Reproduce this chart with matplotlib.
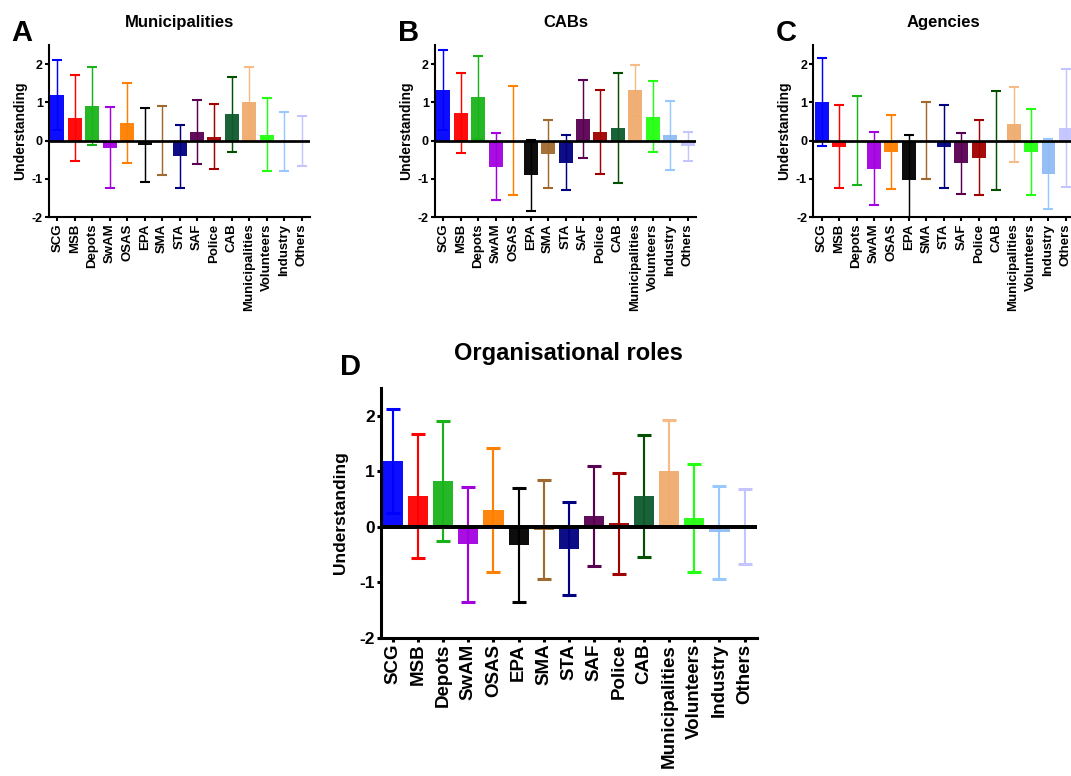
import matplotlib
matplotlib.use("Agg")
import matplotlib.pyplot as plt
import numpy as np

plt.rcParams['font.family'] = ['Liberation Sans', 'DejaVu Sans']
plt.rcParams['font.weight'] = 'bold'
plt.rcParams['axes.unicode_minus'] = False

roles = ['SCG', 'MSB', 'Depots', 'SwAM', 'OSAS', 'EPA', 'SMA', 'STA', 'SAF',
         'Police', 'CAB', 'Municipalities', 'Volunteers', 'Industry', 'Others']

bar_colors = ['#0000FF', '#FF0000', '#19B319', '#A300E0', '#FF7F00', '#000000',
              '#A0692E', '#000080', '#5A0052', '#A00000', '#0D5A2C', '#F0AC6E',
              '#22FF11', '#8FBCF5', '#C4C4FF']
err_colors = ['#0000FF', '#FF0000', '#19B319', '#A300E0', '#FF7F00', '#000000',
              '#A0692E', '#000080', '#5A0052', '#A00000', '#005000', '#F5BC88',
              '#22FF11', '#99C8FF', '#C4C4FF']

# mean understanding and SD per role, for each respondent group
muni_mean = [1.19, 0.60, 0.90, -0.18, 0.46, -0.11, 0.0, -0.41, 0.23, 0.11, 0.69, 1.00, 0.16, -0.03, 0.0]
muni_sd = [0.91, 1.12, 1.02, 1.06, 1.04, 0.96, 0.90, 0.83, 0.84, 0.86, 0.98, 0.93, 0.95, 0.77, 0.65]

cab_mean = [1.32, 0.72, 1.13, -0.68, 0.0, -0.90, -0.35, -0.57, 0.56, 0.23, 0.33, 1.32, 0.63, 0.14, -0.15]
cab_sd = [1.05, 1.05, 1.09, 0.88, 1.43, 0.93, 0.88, 0.73, 1.02, 1.10, 1.43, 0.67, 0.93, 0.90, 0.38]

agency_mean = [1.02, -0.16, 0.0, -0.73, -0.30, -1.03, 0.0, -0.16, -0.59, -0.44, 0.0, 0.43, -0.29, -0.87, 0.33]
agency_sd = [1.15, 1.08, 1.16, 0.96, 0.96, 1.18, 1.00, 1.08, 0.79, 0.99, 1.30, 0.98, 1.13, 0.92, 1.54]

all_mean = [1.19, 0.55, 0.83, -0.32, 0.31, -0.33, -0.05, -0.40, 0.19, 0.06, 0.56, 1.00, 0.16, -0.10, 0.0]
all_sd = [0.94, 1.12, 1.08, 1.04, 1.12, 1.03, 0.90, 0.84, 0.90, 0.91, 1.10, 0.92, 0.98, 0.84, 0.68]


def panel(ax, mean, sd, title, fs_tick, fs_ytick, fs_label, fs_title, lw, cap, title_pad, lpad):
    x = np.arange(len(roles))
    for i in range(len(roles)):
        ax.errorbar(x[i], mean[i], yerr=sd[i], color=err_colors[i], elinewidth=lw * 0.7,
                    capsize=cap, capthick=lw, zorder=1)
    ax.bar(x, mean, width=0.8, color=bar_colors, alpha=0.95, linewidth=0, zorder=2)
    ax.axhline(0, color='black', lw=lw * 1.3, zorder=3)
    ax.set_xlim(-0.48, len(roles) - 0.52)
    ax.set_ylim(-2, 2.5)
    ax.set_yticks([-2, -1, 0, 1, 2])
    ax.set_xticks(x)
    ax.set_xticklabels(roles, rotation=90, fontsize=fs_tick, fontweight='bold')
    for t in ax.get_yticklabels():
        t.set_fontsize(fs_ytick)
        t.set_fontweight('bold')
    ax.set_ylabel('Understanding', fontsize=fs_label, fontweight='bold', labelpad=lpad)
    ax.set_title(title, fontsize=fs_title, fontweight='bold', pad=title_pad)
    ax.spines['top'].set_visible(False)
    ax.spines['right'].set_visible(False)
    ax.spines['left'].set_linewidth(lw)
    ax.spines['bottom'].set_linewidth(lw)
    ax.tick_params(width=lw, length=3, pad=1.5)


fig = plt.figure(figsize=(10.71, 7.76), dpi=100)

axA = fig.add_axes([0.0458, 0.72, 0.2437, 0.222])
axB = fig.add_axes([0.4062, 0.72, 0.2437, 0.222])
axC = fig.add_axes([0.7594, 0.72, 0.2437, 0.222])
axD = fig.add_axes([0.3557, 0.1784, 0.3508, 0.3213])

panel(axA, muni_mean, muni_sd, 'Municipalities', 9.5, 9, 10, 12, 1.5, 3.5, 13, 3.5)
panel(axB, cab_mean, cab_sd, 'CABs', 9.5, 9, 10, 12, 1.5, 3.5, 13, 3.5)
panel(axC, agency_mean, agency_sd, 'Agencies', 9.5, 9, 10, 12, 1.5, 3.5, 13, 3.5)
panel(axD, all_mean, all_sd, 'Organisational roles', 13.5, 12.5, 12.5, 17, 2.2, 5, 20, 8)

fig.text(0.011, 0.976, 'A', fontsize=21, fontweight='bold', va='top')
fig.text(0.372, 0.976, 'B', fontsize=21, fontweight='bold', va='top')
fig.text(0.724, 0.976, 'C', fontsize=21, fontweight='bold', va='top')
fig.text(0.317, 0.545, 'D', fontsize=21, fontweight='bold', va='top')

fig.savefig('out.png', dpi=100)
